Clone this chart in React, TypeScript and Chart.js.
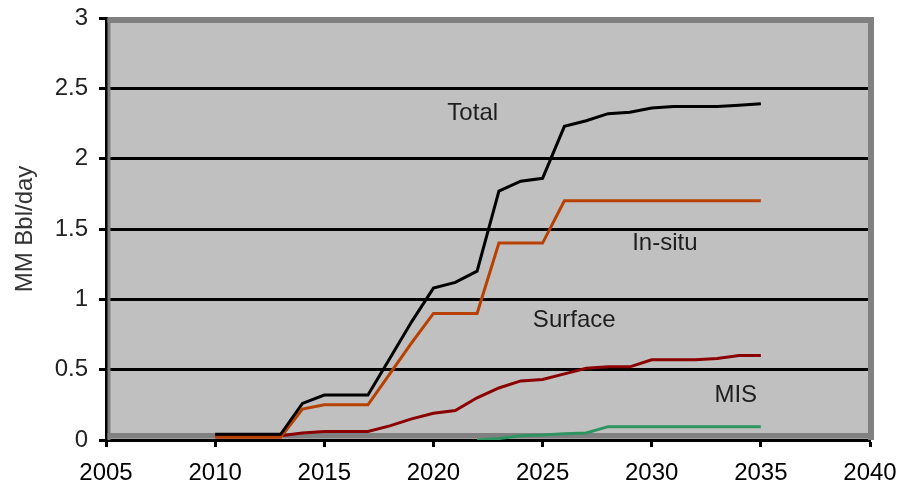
import { useEffect, useRef } from "react";
import { Chart, registerables } from "chart.js";

Chart.register(...registerables);

const years = [
  2010, 2011, 2012, 2013, 2014, 2015, 2016, 2017, 2018, 2019, 2020, 2021, 2022,
  2023, 2024, 2025, 2026, 2027, 2028, 2029, 2030, 2031, 2032, 2033, 2034, 2035,
];
const totalValues = [
  0.04, 0.04, 0.04, 0.04, 0.26, 0.32, 0.32, 0.32, 0.58, 0.84, 1.08, 1.12, 1.2,
  1.77, 1.84, 1.86, 2.23, 2.27, 2.32, 2.33, 2.36, 2.37, 2.37, 2.37, 2.38, 2.39,
];
const inSituValues = [
  0.02, 0.02, 0.02, 0.02, 0.22, 0.25, 0.25, 0.25, 0.47, 0.69, 0.9, 0.9, 0.9,
  1.4, 1.4, 1.4, 1.7, 1.7, 1.7, 1.7, 1.7, 1.7, 1.7, 1.7, 1.7, 1.7,
];
const surfaceValues = [
  0.03, 0.03, 0.03, 0.03, 0.05, 0.06, 0.06, 0.06, 0.1, 0.15, 0.19, 0.21, 0.3,
  0.37, 0.42, 0.43, 0.47, 0.51, 0.52, 0.52, 0.57, 0.57, 0.57, 0.58, 0.6, 0.6,
];
const misValues: (number | null)[] = [
  null, null, null, null, null, null, null, null, null, null, null, null, 0,
  0.01, 0.03, 0.035, 0.045, 0.05, 0.095, 0.095, 0.095, 0.095, 0.095, 0.095, 0.095, 0.095,
];
const seriesNames = ["Total", "In-situ", "Surface", "MIS"];
const seriesColors = ["#000000", "#B84000", "#8B0000", "#2E9462"];
const xTickValues = [2005, 2010, 2015, 2020, 2025, 2030, 2035, 2040];
const yTickValues = [0, 0.5, 1, 1.5, 2, 2.5, 3];
const yAxisTitle = "MM Bbl/day";
// text annotation anchors, in data units (year, MM Bbl/day)
const labelYears = [2021.8, 2030.6, 2026.45, 2033.85];
const labelLevels = [2.32, 1.4, 0.85, 0.32];

const FONT = "'Liberation Sans', Arial, sans-serif";

export default function App() {
  const canvasRef = useRef<HTMLCanvasElement | null>(null);

  useEffect(() => {
    document.body.style.margin = "0";
    const canvas = canvasRef.current;
    if (!canvas) return;

    const frame = {
      id: "plotFrame",
      beforeDraw(chart: any) {
        const { ctx, chartArea: a } = chart;
        ctx.save();
        ctx.fillStyle = "#C0C0C0";
        ctx.fillRect(a.left, a.top, a.right - a.left, a.bottom - a.top);
        ctx.restore();
      },
      beforeDatasetsDraw(chart: any) {
        const { ctx, chartArea: a } = chart;
        const w = a.right - a.left;
        const h = a.bottom - a.top;
        ctx.save();
        ctx.fillStyle = "#808080";
        ctx.fillRect(a.left + 1.5, a.top - 1, w, 6);
        ctx.fillRect(a.right - 2, a.top - 1, 6, h + 1);
        ctx.fillRect(a.left + 1.5, a.top, 3, h);
        ctx.fillRect(a.left + 1.5, a.bottom - 7, w, 5.5);
        ctx.restore();
      },
      afterDatasetsDraw(chart: any) {
        const { ctx, scales } = chart;
        ctx.save();
        ctx.font = `24px ${FONT}`;
        ctx.fillStyle = "#1e1e1e";
        ctx.textAlign = "center";
        ctx.textBaseline = "middle";
        seriesNames.forEach((name, i) => {
          const px = scales.x.getPixelForValue(labelYears[i]);
          const py = scales.y.getPixelForValue(labelLevels[i]);
          ctx.fillText(name, px, py);
        });
        ctx.restore();
      },
    };

    const seriesValues = [totalValues, inSituValues, surfaceValues, misValues];
    const datasets = seriesNames.map((name, i) => ({
      label: name,
      data: years.map((yr, j) => ({ x: yr, y: seriesValues[i][j] })),
      borderColor: seriesColors[i],
      backgroundColor: seriesColors[i],
      borderWidth: 3,
      pointRadius: 0,
      tension: 0,
      fill: false,
      spanGaps: false,
    }));

    const chart = new Chart(canvas, {
      type: "line",
      data: { datasets: datasets as any },
      plugins: [frame as any],
      options: {
        animation: false,
        responsive: false,
        maintainAspectRatio: false,
        layout: { padding: { top: 18, right: 27, left: 0, bottom: 0 } },
        plugins: {
          legend: { display: false },
          tooltip: { enabled: false },
        },
        scales: {
          x: {
            type: "linear",
            min: 2005,
            max: 2040,
            afterBuildTicks: (scale: any) => {
              scale.ticks = xTickValues.map((v) => ({ value: v }));
            },
            afterFit: (scale: any) => {
              scale.height = 44;
              scale.paddingLeft = 0;
              scale.paddingRight = 0;
            },
            ticks: {
              color: "#000",
              font: { family: FONT, size: 24 },
              padding: 12,
              maxRotation: 0,
              autoSkip: false,
              callback: (v: any) => String(v),
            },
            grid: {
              drawOnChartArea: false,
              drawTicks: true,
              tickLength: 7,
              tickColor: "#000",
              tickWidth: 3,
            },
            border: { display: true, color: "#000", width: 3 },
          },
          y: {
            type: "linear",
            min: 0,
            max: 3,
            afterBuildTicks: (scale: any) => {
              scale.ticks = yTickValues.map((v) => ({ value: v }));
            },
            afterFit: (scale: any) => {
              scale.width = 106;
              scale.paddingTop = 0;
              scale.paddingBottom = 0;
            },
            ticks: {
              color: "#222",
              font: { family: FONT, size: 24 },
              padding: 11,
              autoSkip: false,
              callback: (v: any) => String(v),
            },
            grid: {
              color: (c: any) => (c.tick && c.tick.value === 3 ? "rgba(0,0,0,0)" : "#000"),
              lineWidth: 3,
              tickLength: 7,
              tickColor: "#000",
              tickWidth: 3,
            },
            border: { display: true, color: "#000", width: 3 },
            title: {
              display: true,
              text: yAxisTitle,
              color: "#333",
              font: { family: FONT, size: 24 },
              padding: { top: 11, bottom: 0 },
            },
          },
        },
      },
    });

    return () => chart.destroy();
  }, []);

  return (
    <div style={{ position: "fixed", left: 0, top: 0, width: 897, height: 484, background: "#fff" }}>
      <canvas ref={canvasRef} width={897} height={484} style={{ width: 897, height: 484 }} />
    </div>
  );
}
